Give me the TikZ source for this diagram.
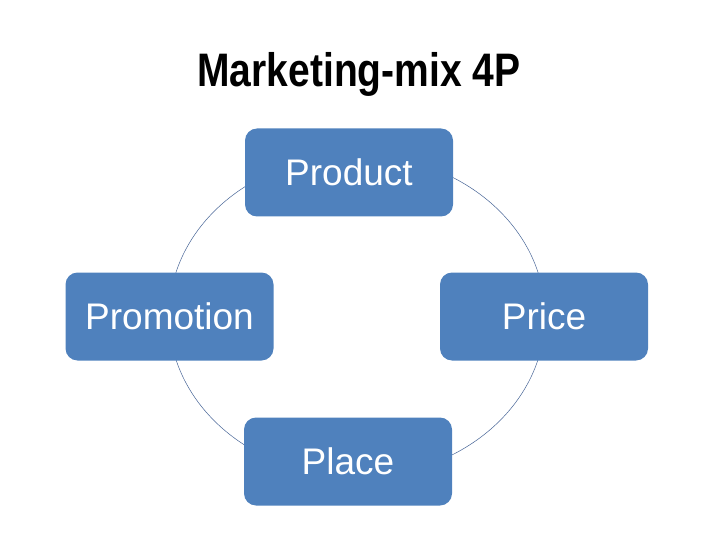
\documentclass[tikz,border=0pt]{standalone}
\usepackage{fontspec}
\setmainfont{Liberation Sans}
\newfontfamily\titlefont[FakeStretch=0.83]{Liberation Sans}
\usetikzlibrary{positioning}
\definecolor{boxblue}{RGB}{79,129,189}
\definecolor{ringblue}{RGB}{70,100,150}

\tikzset{
  pbox/.style={fill=boxblue, rounded corners=12pt, minimum width=208pt, minimum height=88pt,
    text=white, font=\fontsize{37}{40}\selectfont, inner sep=0pt},
}

\begin{document}
\begin{tikzpicture}[x=1pt, y=-1pt]
        \useasboundingbox (0,0) rectangle (720,540);
        % Title
        \node[anchor=base, font=\titlefont\bfseries\fontsize{47}{50}\selectfont] (title) at (359,87) {Marketing-mix 4P};
        % Cycle
        \coordinate (cyc) at (357,316);
        \draw[ringblue, line width=0.5pt] (cyc) ellipse [x radius=188, y radius=161];
        % Boxes
        \node[pbox] (product) at (349,172.5) {Product};
        \node[pbox] (promotion) at (169.5,316.5) {Promotion};
        \node[pbox] (price) at (544,316.5) {Price};
        \node[pbox] (place) at (348,461.5) {Place};
\end{tikzpicture}
\end{document}
